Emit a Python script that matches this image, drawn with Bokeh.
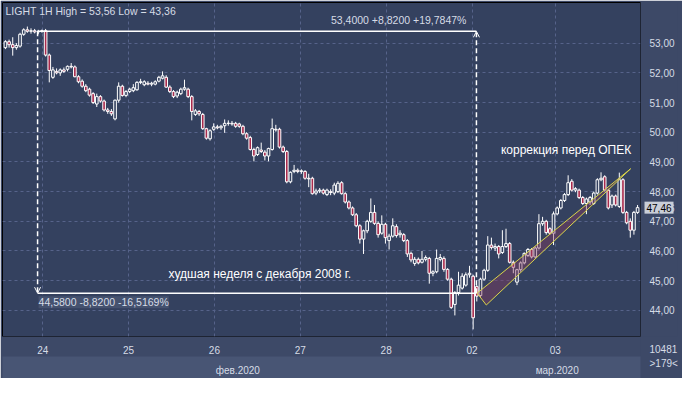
from bokeh.plotting import figure
from bokeh.models import (ColumnDataSource, FixedTicker, LinearAxis, Label, Arrow,
                          OpenHead, Range1d)
from bokeh.core.properties import value
from bokeh.embed import file_html
from bokeh.resources import INLINE

# ---------------- data (hourly candles, LIGHT 1H) ----------------
opens = [52.85, 53.05, 52.95, 52.85, 52.90, 53.30, 53.45, 53.40, 53.42, 53.38,
         53.40, 53.42, 52.60, 51.85, 52.05, 52.00, 52.10, 52.12, 52.22, 52.20,
         51.87, 51.72, 51.55, 51.45, 51.30, 50.95, 51.20, 51.05, 50.75, 50.70,
         50.45, 51.08, 51.55, 51.24, 51.37, 51.40, 51.43, 51.68, 51.60, 51.65,
         51.62, 51.62, 51.72, 51.82, 51.85, 51.52, 51.37, 51.22, 51.30, 51.45,
         51.45, 51.20, 50.60, 50.70, 50.60, 50.12, 49.78, 50.10, 50.18, 50.15,
         50.22, 50.30, 50.30, 50.30, 50.28, 50.20, 49.95, 49.82, 49.42, 49.25,
         49.40, 49.33, 49.20, 49.42, 50.10, 50.10, 49.50, 49.35, 48.33, 48.68,
         48.72, 48.68, 48.68, 48.45, 48.45, 47.95, 48.02, 48.05, 47.90, 48.00,
         47.95, 48.00, 48.30, 47.93, 47.65, 47.45, 47.22, 46.85, 46.40, 46.68,
         47.00, 47.30, 46.93, 46.60, 46.90, 46.35, 46.50, 46.82, 46.55, 46.55,
         46.35, 45.92, 45.58, 45.72, 45.62, 45.72, 45.75, 45.25, 45.30, 45.72,
         45.75, 45.38, 45.05, 44.20, 44.60, 44.75, 44.85, 45.20, 45.15, 44.80,
         44.50, 45.05, 45.35, 46.20, 46.10, 46.15, 45.95, 46.15, 46.25, 45.62,
         44.95, 45.37, 45.60, 45.85, 46.05, 45.80, 46.10, 46.92, 47.00, 46.75,
         46.60, 47.25, 47.45, 47.70, 47.90, 48.35, 48.05, 48.05, 47.80, 47.60,
         47.65, 47.60, 47.95, 48.40, 48.50, 48.05, 47.55, 47.85, 47.50, 48.40,
         47.30, 47.00, 46.70, 47.30]
highs = [53.10, 53.12, 53.20, 53.00, 53.35, 53.50, 53.56, 53.50, 53.48, 53.45,
         53.46, 53.48, 52.65, 52.20, 52.15, 52.15, 52.18, 52.25, 52.33, 52.25,
         51.92, 51.78, 51.62, 51.50, 51.35, 51.30, 51.25, 51.10, 50.82, 50.78,
         51.10, 51.68, 51.60, 51.42, 51.50, 51.62, 51.72, 51.80, 51.75, 51.72,
         51.70, 51.75, 51.90, 52.05, 51.92, 51.58, 51.42, 51.40, 51.50, 51.77,
         51.50, 51.25, 50.78, 50.75, 50.65, 50.15, 50.10, 50.30, 50.25, 50.25,
         50.43, 50.40, 50.38, 50.35, 50.32, 50.25, 50.00, 49.88, 49.48, 49.52,
         49.65, 49.40, 49.48, 50.46, 50.25, 50.15, 49.55, 49.40, 48.68, 48.90,
         48.78, 48.75, 48.72, 48.60, 48.50, 48.10, 48.12, 48.10, 48.10, 48.08,
         48.30, 48.35, 48.35, 47.98, 47.70, 47.50, 47.28, 46.90, 46.72, 47.05,
         47.77, 47.55, 47.00, 47.20, 46.95, 46.58, 47.10, 46.90, 46.70, 46.60,
         46.40, 45.98, 45.80, 45.78, 46.00, 45.85, 45.80, 45.35, 46.05, 45.90,
         45.82, 45.42, 45.10, 44.65, 45.30, 45.25, 45.28, 45.50, 45.20, 44.85,
         45.10, 45.40, 46.50, 46.45, 46.25, 46.20, 46.70, 46.75, 46.30, 45.68,
         45.40, 45.65, 45.95, 46.10, 46.10, 46.15, 47.24, 47.15, 47.05, 46.80,
         47.33, 47.50, 47.75, 47.95, 48.55, 48.42, 48.15, 48.10, 47.85, 47.80,
         47.85, 48.00, 48.45, 48.65, 48.55, 48.10, 47.90, 47.90, 48.64, 48.45,
         47.35, 47.10, 47.35, 47.55]
lows = [52.80, 52.85, 52.58, 52.78, 52.85, 53.25, 53.35, 53.32, 53.33, 53.30,
        53.35, 52.55, 51.68, 51.80, 51.95, 51.90, 52.00, 52.05, 52.15, 51.85,
        51.65, 51.50, 51.35, 51.20, 50.95, 50.85, 51.00, 50.70, 50.62, 50.55,
        50.40, 51.00, 51.20, 51.18, 51.32, 51.35, 51.40, 51.62, 51.55, 51.58,
        51.55, 51.58, 51.68, 51.78, 51.50, 51.32, 51.15, 51.15, 51.25, 51.40,
        51.15, 50.40, 50.55, 50.55, 50.08, 49.75, 49.72, 50.05, 50.10, 50.08,
        49.98, 50.22, 50.22, 50.15, 50.15, 49.90, 49.75, 49.38, 49.02, 49.20,
        49.30, 49.05, 49.02, 49.38, 50.02, 49.45, 49.30, 48.28, 48.28, 48.62,
        48.62, 48.60, 48.40, 48.15, 47.90, 47.88, 47.95, 47.90, 47.85, 47.88,
        47.88, 47.95, 47.90, 47.60, 47.40, 47.18, 46.80, 46.25, 45.90, 46.60,
        46.95, 46.88, 46.45, 46.55, 46.25, 46.05, 46.45, 46.45, 46.45, 46.30,
        45.80, 45.62, 45.50, 45.55, 45.58, 45.65, 44.90, 45.15, 45.25, 45.65,
        45.30, 45.00, 44.05, 43.83, 44.50, 44.70, 44.80, 45.10, 43.36, 44.30,
        44.45, 45.00, 45.30, 46.05, 46.00, 45.75, 45.90, 46.10, 45.58, 45.25,
        44.85, 45.30, 45.55, 45.80, 45.75, 45.75, 46.05, 46.85, 46.55, 46.55,
        46.20, 47.20, 47.40, 47.65, 47.85, 48.00, 47.98, 47.75, 47.55, 47.24,
        47.55, 47.55, 47.90, 48.35, 48.00, 47.40, 47.45, 47.50, 47.45, 47.25,
        46.90, 46.45, 46.55, 47.25]
closes = [53.05, 52.95, 52.85, 52.92, 53.30, 53.45, 53.40, 53.42, 53.38, 53.40,
          53.42, 52.60, 52.08, 52.10, 52.00, 52.10, 52.05, 52.22, 52.20, 51.87,
          51.70, 51.55, 51.40, 51.25, 51.00, 51.20, 51.05, 50.75, 50.70, 50.62,
          51.08, 51.55, 51.24, 51.37, 51.45, 51.50, 51.68, 51.70, 51.70, 51.62,
          51.65, 51.70, 51.85, 51.90, 51.52, 51.37, 51.20, 51.35, 51.45, 51.50,
          51.20, 50.70, 50.72, 50.62, 50.12, 49.80, 50.05, 50.18, 50.15, 50.20,
          50.30, 50.30, 50.28, 50.20, 50.20, 49.95, 49.80, 49.42, 49.20, 49.48,
          49.35, 49.20, 49.45, 50.12, 50.08, 49.50, 49.35, 48.33, 48.65, 48.72,
          48.68, 48.70, 48.45, 48.43, 47.93, 48.02, 48.05, 47.95, 48.05, 47.97,
          48.22, 48.28, 47.93, 47.65, 47.45, 47.22, 46.85, 46.40, 46.68, 47.00,
          47.30, 46.93, 46.55, 46.90, 46.45, 46.50, 46.85, 46.52, 46.60, 46.35,
          45.90, 45.70, 45.72, 45.60, 45.72, 45.78, 45.25, 45.30, 45.75, 45.78,
          45.38, 45.05, 44.10, 44.60, 44.85, 45.15, 45.20, 45.25, 43.75, 44.48,
          45.05, 45.35, 46.20, 46.12, 46.15, 45.90, 46.15, 46.25, 45.62, 45.45,
          45.37, 45.60, 45.92, 46.05, 45.80, 46.10, 46.92, 47.00, 46.62, 46.60,
          47.25, 47.45, 47.70, 47.90, 48.30, 48.05, 48.10, 47.80, 47.60, 47.75,
          47.80, 47.95, 48.40, 48.45, 48.05, 47.45, 47.85, 47.55, 48.40, 47.30,
          46.95, 46.70, 47.30, 47.46]

day_ticks = [10.2, 33.7, 57.2, 80.7, 104.2, 127.7, 150.5]
day_labels = ["24", "25", "26", "27", "28", "02", "03"]
month_ticks = [63.6, 151.0]
month_labels = ["фев.2020", "мар.2020"]
price_ticks = [44, 45, 46, 47, 48, 49, 50, 51, 52, 53]
price_labels = ["44,00", "45,00", "46,00", "47,00", "48,00", "49,00", "50,00",
                "51,00", "52,00", "53,00"]

measure_x = [8.8, 128.9]          # start / end candle positions of the measure
measure_price = [53.40, 44.58]    # top / bottom price of the measure
channel_x = [129.1, 131.6, 171.1]
channel_y = [44.58, 44.18, 48.77]
last_price = 47.46
last_label = "47,46"
counters = ["10481", ">179<"]

# ---------------- styling ----------------
BG = "#34415f"
PANEL = "#3d4967"
MONTH = "#485574"
GRID = "#56638a"
TXT = "#d6dce6"
RED = "#a82a4c"
MARK = "#c9ced8"
FONT = "Liberation Sans"
X0, X1, Y0, Y1 = -0.8, 173.8, 43.12, 54.37

n = len(closes)
xs = list(range(n))
top = [max(o, c) for o, c in zip(opens, closes)]
bot = [min(o, c) for o, c in zip(opens, closes)]
fill = [BG if c >= o else RED for o, c in zip(opens, closes)]
src = ColumnDataSource(dict(x=xs, o=opens, h=highs, l=lows, c=closes,
                            top=top, bot=bot, fill=fill))

p = figure(width=682, height=378, output_backend="svg", toolbar_location=None,
           x_range=Range1d(X0, X1), y_range=Range1d(Y0, Y1),
           y_axis_location="right", min_border_left=2, min_border_top=2,
           min_border_right=42, min_border_bottom=0)
p.background_fill_color = BG
p.border_fill_color = PANEL
p.outline_line_color = "black"

# axes (the last price also gets a tick on the price scale)
ya = p.yaxis[0]
ya.ticker = FixedTicker(ticks=price_ticks + [last_price])
overrides = {t: s for t, s in zip(price_ticks, price_labels)}
overrides[last_price] = last_label
ya.major_label_overrides = overrides
ya.major_tick_line_color = None
ya.minor_tick_line_color = None
ya.axis_line_color = None
ya.major_label_text_color = TXT
ya.major_label_text_font = FONT
ya.major_label_text_font_size = "10px"
ya.major_label_standoff = 3
ya.background_fill_color = PANEL

xa = p.xaxis[0]
xa.ticker = FixedTicker(ticks=day_ticks)
xa.major_label_overrides = {t: s for t, s in zip(day_ticks, day_labels)}
xa.major_tick_line_color = None
xa.minor_tick_line_color = None
xa.axis_line_color = None
xa.major_label_text_color = TXT
xa.major_label_text_font = FONT
xa.major_label_text_font_size = "10px"
xa.major_label_standoff = 3
xa.background_fill_color = PANEL

ma = LinearAxis(ticker=FixedTicker(ticks=month_ticks),
                major_label_overrides={t: s for t, s in zip(month_ticks, month_labels)})
ma.major_tick_line_color = None
ma.minor_tick_line_color = None
ma.axis_line_color = None
ma.major_label_text_color = TXT
ma.major_label_text_font = FONT
ma.major_label_text_font_size = "10px"
ma.major_label_standoff = 2
ma.background_fill_color = MONTH
p.add_layout(ma, "below")

p.xgrid[0].ticker = FixedTicker(ticks=day_ticks)
p.ygrid[0].ticker = FixedTicker(ticks=price_ticks)
for g in (p.xgrid[0], p.ygrid[0]):
    g.grid_line_color = GRID
    g.grid_line_dash = "3 3"
    g.grid_line_width = 1

# candles
p.segment(x0="x", y0="h", x1="x", y1="l", source=src, line_color="white", line_width=1)
p.vbar(x="x", width=0.72, top="top", bottom="bot", source=src,
       fill_color="fill", line_color="white", line_width=1)

# measurement tool
p.segment(x0=[measure_x[0], measure_x[0]], y0=[measure_price[0], measure_price[1]],
          x1=[measure_x[1], measure_x[1]], y1=[measure_price[0], measure_price[1]],
          line_color="white", line_width=1.5)
p.add_layout(Arrow(x_start=measure_x[0], y_start=measure_price[0],
                   x_end=measure_x[0], y_end=measure_price[1],
                   line_color="white", line_width=1.5, line_dash="5 3",
                   end=OpenHead(size=6, line_color="white", line_width=1)))
p.add_layout(Arrow(x_start=measure_x[1], y_start=measure_price[1],
                   x_end=measure_x[1], y_end=measure_price[0],
                   line_color="white", line_width=1.5, line_dash="5 3",
                   end=OpenHead(size=6, line_color="white", line_width=1)))

# channel drawing
p.patch(channel_x, channel_y, fill_color="#8a3a5e", fill_alpha=0.4,
        line_color="#d9d64a", line_width=1)

# texts
p.add_layout(Label(x=X0, y=Y1, x_offset=3, y_offset=-2, text_baseline="top",
                   text="LIGHT 1H High = 53,56 Low = 43,36", text_color=TXT,
                   text_font=FONT, text_font_size="10.5px"))
p.add_layout(Label(x=measure_x[1], y=measure_price[0], x_offset=-10, y_offset=5,
                   text_align="right", text_baseline="bottom",
                   text="53,4000 +8,8200 +19,7847%", text_color=TXT,
                   text_font=FONT, text_font_size="10.5px"))
p.add_layout(Label(x=measure_x[0], y=measure_price[1], x_offset=1, y_offset=-3,
                   text_baseline="top", text="44,5800 -8,8200 -16,5169%",
                   text_color=TXT, text_font=FONT, text_font_size="10.5px",
                   background_fill_color="#45526f", background_fill_alpha=1))
p.add_layout(Label(x=44.6, y=45.21, text_baseline="middle",
                   text="худшая неделя с декабря 2008 г.", text_color="white",
                   text_font=FONT, text_font_size="12px"))
p.add_layout(Label(x=135.6, y=49.4, text_baseline="middle",
                   text="коррекция перед ОПЕК", text_color="white",
                   text_font=FONT, text_font_size="12px"))

# last price marker box on the price scale (overlay-level glyphs)
try:
    p.text(x=[X1], y=[last_price], text=[last_label], x_offset=4,
           text_baseline="middle", text_color="black", text_font=value(FONT),
           text_font_size="10px", background_fill_color=MARK, padding=2,
           level="overlay")
except Exception:
    pass
try:
    p.text(x=[X1, X1], y=[Y0, Y0], text=counters, x_offset=[9, 9],
           y_offset=[12, 27], text_baseline="middle", text_color=TXT,
           text_font=value(FONT), text_font_size="10px", level="overlay")
except Exception:
    pass

open("out.html", "w").write(file_html(p, INLINE))
